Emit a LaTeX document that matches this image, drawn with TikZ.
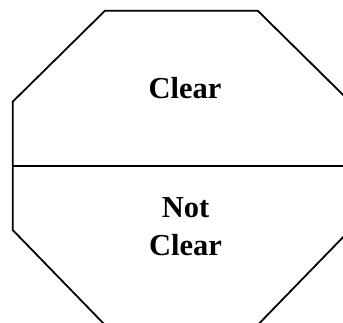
\documentclass[tikz,border=0pt]{standalone}
\usepackage{fontspec}
\setmainfont{Liberation Serif}
\usetikzlibrary{positioning}
\tikzset{
  edge/.style={draw, line width=1.8pt, line join=miter},
  signtext/.style={font=\fontsize{30.5}{38.5}\selectfont\bfseries, align=center, inner sep=0pt}
}
\begin{document}
\begin{tikzpicture}[x=1pt, y=-1pt]
\useasboundingbox (0,0) rectangle (343,322);
\clip (0,0) rectangle (343,322);
% octagon corners
\coordinate (tl) at (105,10.7);
\coordinate (tr) at (257.7,10.7);
\coordinate (rt) at (350,101.7);
\coordinate (rb) at (350,230);
\coordinate (br) at (257.7,325);
\coordinate (bl) at (105,325);
\coordinate (lb) at (12.7,230);
\coordinate (lt) at (12.7,101.7);
\coordinate (midl) at (12.7,165.7);
\coordinate (midr) at (350,165.7);
\draw[edge] (tl) -- (tr) -- (rt) -- (rb) -- (br) -- (bl) -- (lb) -- (lt) -- cycle;
\draw[edge] (midl) -- (midr);
\node[signtext, anchor=base] (clear) at (185,98.5) {Clear};
\node[signtext, anchor=base] (notclear) at (185.5,255.5) {Not\\Clear};
\end{tikzpicture}
\end{document}
